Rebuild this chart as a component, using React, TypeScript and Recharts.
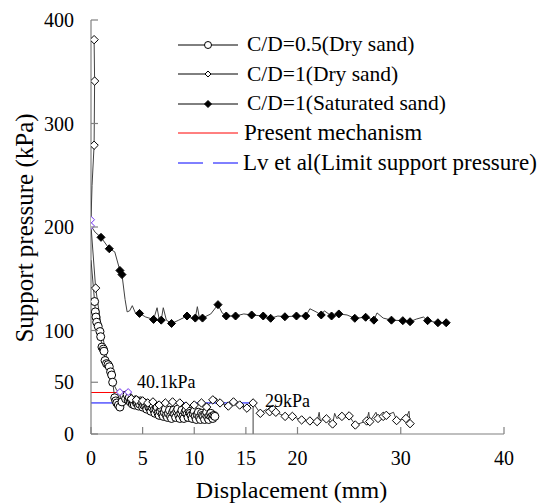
import React from "react";
import {
  ScatterChart,
  Scatter,
  XAxis,
  YAxis,
  ReferenceLine,
  ReferenceDot,
  Legend,
} from "recharts";

const FONT = "'Liberation Serif', 'Times New Roman', serif";

const xTicks = [0, 5, 10, 15, 20, 30, 40];
const yTicks = [0, 50, 100, 200, 300, 400];

// C/D=0.5 (Dry sand) - measured points, circles
const cd05Points = [
  [0.35, 128], [0.42, 118], [0.48, 113], [0.55, 108], [0.7, 104], [0.87, 99],
  [0.94, 94], [1.06, 84], [1.2, 82], [1.26, 80], [1.36, 71], [1.5, 68],
  [1.65, 67], [1.77, 65], [1.9, 60], [2.0, 57], [2.1, 50], [2.3, 35],
  [2.4, 32], [2.5, 30], [2.65, 28], [2.8, 26], [3.0, 31], [3.2, 37],
  [3.35, 34], [3.5, 38], [3.6, 33], [3.7, 35], [3.8, 31], [3.9, 33],
  [4.0, 29], [4.1, 31], [4.2, 28], [4.3, 33], [4.4, 30], [4.5, 30],
  [4.6, 27], [4.7, 29], [4.8, 32], [4.9, 31], [5.0, 26], [5.1, 28],
  [5.2, 30], [5.3, 27], [5.4, 24], [5.5, 29], [5.6, 26], [5.7, 25],
  [5.8, 22], [5.9, 26], [6.0, 28], [6.1, 23], [6.2, 20], [6.3, 24],
  [6.4, 26], [6.5, 20], [6.6, 18], [6.7, 22], [6.8, 25], [6.9, 19],
  [7.0, 17], [7.1, 21], [7.2, 24], [7.3, 18], [7.4, 16], [7.5, 20],
  [7.6, 23], [7.7, 17], [7.8, 15], [7.9, 21], [8.0, 23], [8.1, 19],
  [8.2, 16], [8.3, 22], [8.4, 24], [8.5, 18], [8.6, 15], [8.7, 20],
  [8.8, 23], [8.9, 17], [9.0, 15], [9.1, 21], [9.2, 23], [9.3, 19],
  [9.4, 16], [9.5, 22], [9.6, 20], [9.7, 18], [9.8, 15], [9.9, 20],
  [10.0, 22], [10.1, 17], [10.2, 14], [10.3, 19], [10.4, 21], [10.5, 16],
  [10.6, 14], [10.7, 20], [10.8, 18], [10.9, 17], [11.0, 14], [11.1, 19],
  [11.2, 21], [11.3, 16], [11.4, 14], [11.5, 18], [11.6, 20], [11.7, 17],
  [11.8, 15], [11.9, 18], [12.0, 17],
];
const cd05Start = [[0, 168]];

// C/D=1 (Dry sand) - open diamonds
const cd1DryMarkers = [
  [0.3, 381], [0.35, 341], [0.3, 279], [0.45, 141],
  [3.9, 34], [4.4, 33], [5.0, 32], [5.5, 30], [6.0, 31], [6.6, 28],
  [7.2, 30], [7.9, 31], [8.6, 30], [9.2, 27], [10.0, 28], [10.7, 30],
  [11.2, 26], [11.8, 33], [12.5, 30], [13.3, 27], [13.8, 31], [14.4, 28],
  [15.1, 25], [15.7, 30], [16.4, 20], [17.3, 21.5], [17.6, 24], [17.9, 21],
  [18.8, 17], [19.5, 17], [20.4, 13.6], [21.2, 12.6], [21.9, 12], [22.8, 14.6],
  [23.4, 9.7], [24.3, 17], [25.0, 17.5], [25.6, 8.7], [26.7, 12.6], [27.0, 12],
  [27.8, 15], [28.3, 17], [28.6, 18], [29.6, 13], [30.5, 15], [30.9, 10],
];
const cd1DryLine = [
  [0.3, 381], [0.35, 341], [0.3, 279], [0.1, 240], [0, 207], [0, 201],
  [0.45, 141], [0.9, 110], [1.3, 85], [1.7, 65], [2.1, 50], [2.5, 42],
  [2.8, 40.5], [3.2, 38], [3.6, 40.5], [3.9, 34], [4.4, 33], [5.0, 32],
  [5.5, 30], [6.0, 31], [6.6, 28], [7.2, 30], [7.9, 31], [8.6, 30],
  [9.2, 27], [10.0, 28], [10.7, 30], [11.2, 26], [11.8, 33], [12.1, 35],
  [12.5, 30], [13.3, 27], [13.8, 31], [14.4, 28], [15.1, 25], [15.7, 30],
  [16.4, 20], [17.0, 24], [17.3, 21.5], [17.6, 24], [17.9, 21], [18.8, 17],
  [19.5, 17], [20.4, 13.6], [21.2, 12.6], [21.9, 12], [22.1, 21], [22.2, 13],
  [22.8, 14.6], [23.4, 9.7], [23.6, 20], [23.8, 15], [24.3, 17], [25.0, 17.5],
  [25.6, 8.7], [26.7, 12.6], [26.9, 21], [27.0, 12], [27.6, 21], [27.8, 15],
  [28.3, 17], [28.6, 18], [29.3, 21], [29.6, 13], [30.5, 15], [30.8, 22],
  [30.9, 10],
];

// C/D=1 (Saturated sand) - filled diamonds
const cd1SatMarkers = [
  [0.97, 190], [1.77, 179], [2.8, 158], [3.0, 154], [4.7, 116.5], [6.06, 110.7],
  [6.8, 110], [7.8, 106.8], [9.3, 114], [10.1, 112], [10.8, 112], [12.3, 125],
  [13.1, 114], [14.0, 114], [15.56, 115], [16.68, 114], [17.4, 111.8], [18.78, 113.3],
  [19.9, 114], [20.8, 114], [22.3, 115], [23.3, 114], [24.0, 116], [25.55, 111.8],
  [26.6, 112.8], [27.4, 110], [29.1, 110], [30.2, 109.5], [30.9, 108.5], [32.6, 109.5],
  [33.6, 107.5], [34.4, 107.5],
];
const cd1SatLine = [
  [0, 201], [0.4, 195], [0.97, 190], [1.77, 179], [2.3, 176], [2.8, 158],
  [3.0, 154], [3.3, 130], [3.5, 118], [3.74, 119], [4.0, 124], [4.3, 117],
  [4.7, 116.5], [5.3, 113], [6.06, 110.7], [6.4, 122], [6.6, 111], [6.8, 110],
  [7.0, 122], [7.3, 110], [7.8, 106.8], [8.5, 110], [9.3, 114], [9.7, 112],
  [10.1, 112], [10.3, 123], [10.5, 112], [10.8, 112], [11.6, 116], [12.3, 125],
  [12.7, 117], [13.1, 114], [14.0, 114], [14.8, 116], [15.56, 115], [16.68, 114],
  [17.4, 111.8], [18.1, 114], [18.78, 113.3], [19.9, 114], [20.8, 114], [21.2, 121],
  [21.8, 118], [22.3, 115], [22.6, 119], [23.3, 114], [24.0, 116], [24.8, 115],
  [25.55, 111.8], [26.6, 112.8], [27.4, 110], [27.7, 117], [28.3, 112], [29.1, 110],
  [30.2, 109.5], [30.9, 108.5], [31.5, 111], [32.2, 113], [32.6, 109.5], [33.6, 107.5],
  [34.4, 107.5],
];

// highlighted (purple) markers
const highlightPoints = [[0, 207], [0, 201], [2.8, 40.5], [3.6, 40.5]];

const presentMechanism = 40.1;
const presentMechanismEnd = 3.6;
const lvLimit = 30;
const lvLimitEnd = 15.7;

const annotations = [
  { x: 4.45, y: 44.4, text: "40.1kPa" },
  { x: 16.85, y: 26.1, text: "29kPa" },
];

const legendItems = [
  { name: "C/D=0.5(Dry sand)", marker: "circle", color: "#000", dash: "", size: 21.5, gap: 9 },
  { name: "C/D=1(Dry sand)", marker: "diamond", color: "#000", dash: "", size: 21.5, gap: 9 },
  { name: "C/D=1(Saturated sand)", marker: "filled", color: "#000", dash: "", size: 21.5, gap: 9 },
  { name: "Present mechanism", marker: "", color: "#ff0000", dash: "", size: 23, gap: 6 },
  { name: "Lv et al(Limit support pressure)", marker: "", color: "#0000ff", dash: "25 10", size: 23, gap: 5 },
];

const toXY = (arr: number[][]) => arr.map(([x, y]) => ({ x, y }));

const LINE = "#404040";
const AXIS = "#808080";

const diamondPath = (cx: number, cy: number, s: number) =>
  `M${cx},${cy - s}L${cx + s},${cy}L${cx},${cy + s}L${cx - s},${cy}Z`;

const Nothing = () => <g />;
const OpenCircle = (p: any) => (
  <circle cx={p.cx} cy={p.cy} r={4} fill="#fff" stroke="#000" strokeWidth={1} />
);
const OpenDiamond = (p: any) => (
  <path d={diamondPath(p.cx, p.cy, 4.2)} fill="#fff" stroke="#000" strokeWidth={1} />
);
const FilledDiamond = (p: any) => (
  <path d={diamondPath(p.cx, p.cy, 4)} fill="#000" stroke="#000" strokeWidth={1} />
);
const PurpleDiamond = (p: any) => (
  <path d={diamondPath(p.cx, p.cy, 3.5)} fill="#fff" stroke="#7030f0" strokeWidth={1} />
);

const YTick = (p: any) => (
  <g>
    <line x1={p.x + 17} x2={p.x + 24} y1={p.y} y2={p.y} stroke={AXIS} strokeWidth={1.2} />
    <text x={p.x} y={p.y} dy={7} textAnchor="end" fontSize={20} fontFamily={FONT} fill="#000">
      {p.payload.value}
    </text>
  </g>
);

const XTick = (p: any) => (
  <g>
    <line x1={p.x} x2={p.x} y1={p.y - 17} y2={p.y - 24} stroke={AXIS} strokeWidth={1.2} />
    <text x={p.x} y={p.y} dy={14} textAnchor="middle" fontSize={20} fontFamily={FONT} fill="#000">
      {p.payload.value}
    </text>
  </g>
);

const LegendIcon = ({ item }: any) => (
  <svg width={60} height={20} style={{ flex: "none" }}>
    <line x1={0} x2={60} y1={10} y2={10} stroke={item.color} strokeWidth={1} strokeDasharray={item.dash || undefined} />
    {item.marker === "circle" && <circle cx={30} cy={10} r={3.5} fill="#fff" stroke="#000" />}
    {item.marker === "diamond" && <path d={diamondPath(30, 10, 3)} fill="#fff" stroke="#000" />}
    {item.marker === "filled" && <path d={diamondPath(30, 10, 3.5)} fill="#000" stroke="#000" />}
  </svg>
);

const renderLegend = () => (
  <div style={{ fontFamily: FONT, color: "#000" }}>
    {legendItems.map((item) => (
      <div key={item.name} style={{ display: "flex", alignItems: "center", height: 29.5, whiteSpace: "nowrap" }}>
        <LegendIcon item={item} />
        <span style={{ marginLeft: item.gap, fontSize: item.size }}>{item.name}</span>
      </div>
    ))}
  </div>
);

export default function App() {
  return (
    <div style={{ position: "absolute", left: 0, top: 0 }}>
      <ScatterChart width={537} height={504} margin={{ top: 20, right: 33, bottom: 0, left: 0 }}>
        <XAxis
          type="number"
          dataKey="x"
          domain={[0, 40]}
          ticks={xTicks}
          height={70}
          tickSize={0}
          tickMargin={17}
          tickLine={false}
          tick={<XTick />}
          axisLine={{ stroke: AXIS, strokeWidth: 1.2 }}
          allowDataOverflow
          label={{
            content: () => (
              <text x={291.5} y={498} textAnchor="middle" fontSize={24} fontFamily={FONT} fill="#000">
                Displacement (mm)
              </text>
            ),
          }}
        />
        <YAxis
          type="number"
          dataKey="y"
          domain={[0, 400]}
          ticks={yTicks}
          width={91}
          tickSize={0}
          tickMargin={17}
          tickLine={false}
          tick={<YTick />}
          axisLine={{ stroke: AXIS, strokeWidth: 1.2 }}
          allowDataOverflow
          label={{
            content: () => (
              <text transform="translate(33,228) rotate(-90)" textAnchor="middle" fontSize={25} fontFamily={FONT} fill="#000">
                Support pressure (kPa)
              </text>
            ),
          }}
        />
        <Legend
          content={renderLegend}
          layout="vertical"
          align="center"
          verticalAlign="middle"
          wrapperStyle={{ left: 178, top: 30, width: 360 }}
        />

        <Scatter data={toXY([...cd05Start, ...cd05Points])} line={{ stroke: LINE, strokeWidth: 1 }} shape={<Nothing />} isAnimationActive={false} />
        <Scatter data={toXY(cd1DryLine)} line={{ stroke: LINE, strokeWidth: 1 }} shape={<Nothing />} isAnimationActive={false} />
        <Scatter data={toXY(cd1SatLine)} line={{ stroke: LINE, strokeWidth: 1 }} shape={<Nothing />} isAnimationActive={false} />

        <ReferenceLine
          segment={[{ x: 0, y: presentMechanism }, { x: presentMechanismEnd, y: presentMechanism }]}
          stroke="#ff0000"
          strokeWidth={1}
        />
        <ReferenceLine
          segment={[{ x: 0, y: lvLimit }, { x: lvLimitEnd, y: lvLimit }]}
          stroke="#0000ff"
          strokeWidth={1}
          strokeDasharray="94 8"
        />
        <ReferenceLine
          segment={[{ x: lvLimitEnd, y: 0 }, { x: lvLimitEnd, y: lvLimit }]}
          stroke={LINE}
          strokeWidth={1}
        />

        <Scatter data={toXY(cd05Points)} shape={<OpenCircle />} isAnimationActive={false} />
        <Scatter data={toXY(cd1DryMarkers)} shape={<OpenDiamond />} isAnimationActive={false} />
        <Scatter data={toXY(cd1SatMarkers)} shape={<FilledDiamond />} isAnimationActive={false} />
        <Scatter data={toXY(highlightPoints)} shape={<PurpleDiamond />} isAnimationActive={false} />

        {annotations.map((a) => (
          <ReferenceDot
            key={a.text}
            x={a.x}
            y={a.y}
            r={1}
            fill="none"
            stroke="none"
            label={{
              content: (props: any) => (
                <text x={props.viewBox.x + 1} y={props.viewBox.y + 1} fontSize={18} fontFamily={FONT} fill="#000">
                  {a.text}
                </text>
              ),
            }}
          />
        ))}
      </ScatterChart>
    </div>
  );
}
